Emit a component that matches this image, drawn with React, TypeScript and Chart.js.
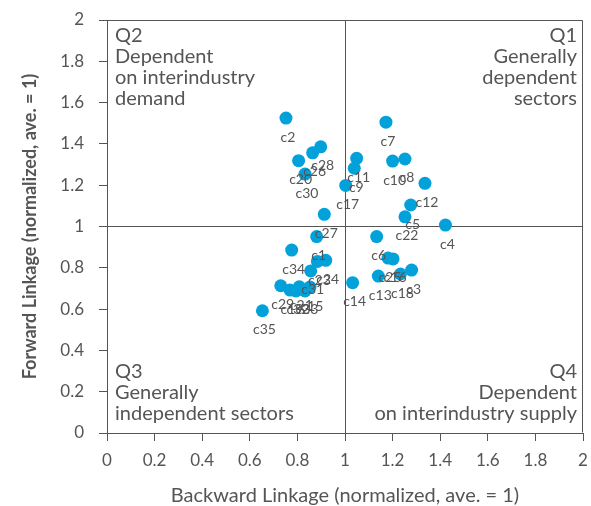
import React, { useEffect, useRef } from "react";
import { Chart, registerables } from "chart.js";

Chart.register(...registerables);

const sectorLabels = [
  "c1", "c2", "c3", "c4", "c5", "c6", "c7", "c8", "c9", "c10",
  "c11", "c12", "c13", "c14", "c15", "c16", "c17", "c18", "c19", "c20",
  "c21", "c22", "c23", "c24", "c25", "c26", "c27", "c28", "c29", "c30",
  "c31", "c32", "c33", "c34", "c35",
];
const backwardLinkage = [
  0.881, 0.752, 1.28, 1.422, 1.276, 1.133, 1.172, 1.252, 1.039, 1.2,
  1.049, 1.336, 1.14, 1.032, 0.853, 1.202, 1.003, 1.233, 0.769, 0.805,
  0.808, 1.252, 0.884, 0.919, 1.181, 0.864, 0.913, 0.898, 0.73, 0.832,
  0.856, 0.794, 0.832, 0.776, 0.653,
];
const forwardLinkage = [
  0.951, 1.525, 0.789, 1.007, 1.104, 0.951, 1.505, 1.327, 1.282, 1.317,
  1.33, 1.209, 0.76, 0.728, 0.707, 0.843, 1.199, 0.77, 0.692, 1.319,
  0.708, 1.047, 0.831, 0.836, 0.847, 1.357, 1.059, 1.386, 0.713, 1.254,
  0.785, 0.688, 0.688, 0.886, 0.592,
];
const axisMin = 0;
const axisMax = 2;
const tickStep = 0.2;
const quadrantQ2 = ["Q2", "Dependent", "on interindustry", "demand"];
const quadrantQ1 = ["Q1", "Generally", "dependent", "sectors"];
const quadrantQ3 = ["Q3", "Generally", "independent sectors"];
const quadrantQ4 = ["Q4", "Dependent", "on interindustry supply"];
const xTitle = "Backward Linkage (normalized, ave. = 1)";
const yTitle = "Forward Linkage (normalized, ave. = 1)";

const FONT = "Lato";
const TEXT = "#555555";
const LINE = "#555555";
const DOT = "#03a1da";

const isOne = (v: number) => Math.abs(v - 1) < 1e-9;
const fmt = (v: number) => String(Number(Number(v).toFixed(1)));

export default function App() {
  const ref = useRef<HTMLCanvasElement | null>(null);

  useEffect(() => {
    if (!ref.current) return;

    const framePlugin = {
      id: "frame",
      beforeDatasetsDraw(chart: any) {
        const { ctx, chartArea } = chart;
        const l = Math.round(chartArea.left) + 0.5;
        const r = Math.round(chartArea.right) - 0.5;
        const t = Math.round(chartArea.top) + 0.5;
        const b = Math.round(chartArea.bottom) - 0.5;
        ctx.save();
        ctx.strokeStyle = LINE;
        ctx.lineWidth = 1;
        ctx.beginPath();
        ctx.moveTo(l, t);
        ctx.lineTo(r, t);
        ctx.lineTo(r, b);
        ctx.stroke();
        ctx.restore();
      },
    };

    const textPlugin = {
      id: "texts",
      afterDatasetsDraw(chart: any) {
        const { ctx, chartArea } = chart;
        const meta = chart.getDatasetMeta(0);
        ctx.save();
        ctx.fillStyle = TEXT;
        ctx.font = `14px ${FONT}`;
        ctx.textAlign = "center";
        ctx.textBaseline = "middle";
        meta.data.forEach((el: any, i: number) => {
          ctx.fillText(sectorLabels[i], el.x + 2, el.y + 19);
        });

        ctx.font = `20px ${FONT}`;
        ctx.textBaseline = "alphabetic";
        const lh = 21;
        const leftX = chartArea.left + 8;
        const rightX = chartArea.right - 6;
        const topBase = chartArea.top + 22;
        const botBase = chartArea.bottom - 55;
        ctx.textAlign = "left";
        quadrantQ2.forEach((s, i) => ctx.fillText(s, leftX, topBase + i * lh));
        quadrantQ3.forEach((s, i) => ctx.fillText(s, leftX, botBase + i * lh));
        ctx.textAlign = "right";
        quadrantQ1.forEach((s, i) => ctx.fillText(s, rightX, topBase + i * lh));
        quadrantQ4.forEach((s, i) => ctx.fillText(s, rightX, botBase + i * lh));
        ctx.restore();
      },
    };

    const chart = new Chart(ref.current, {
      type: "scatter",
      data: {
        datasets: [
          {
            data: backwardLinkage.map((x, i) => ({ x, y: forwardLinkage[i] })),
            backgroundColor: DOT,
            borderWidth: 0,
            pointRadius: 6.5,
            pointHoverRadius: 6.5,
          },
        ],
      },
      options: {
        animation: false,
        responsive: false,
        devicePixelRatio: 1,
        layout: { padding: { left: 0, right: 8, top: 20, bottom: 0 } },
        plugins: { legend: { display: false }, tooltip: { enabled: false } },
        scales: {
          x: {
            type: "linear",
            min: axisMin,
            max: axisMax,
            afterFit: (s: any) => {
              s.height = 73;
              s.paddingLeft = 0;
              s.paddingRight = 0;
            },
            ticks: {
              stepSize: tickStep,
              padding: 9,
              color: TEXT,
              font: { family: FONT, size: 17 },
              callback: (v: any) => fmt(v),
            },
            grid: {
              color: (c: any) => (c.tick && isOne(c.tick.value) ? LINE : "rgba(0,0,0,0)"),
              tickColor: LINE,
              tickLength: 8,
              lineWidth: 1,
            },
            border: { display: true, color: LINE, width: 1 },
            title: {
              display: true,
              text: xTitle,
              color: TEXT,
              font: { family: FONT, size: 20, lineHeight: 1 },
              padding: { top: 0, bottom: 0 },
            },
          },
          y: {
            type: "linear",
            min: axisMin,
            max: axisMax,
            afterFit: (s: any) => {
              s.width = 107;
              s.paddingTop = 0;
              s.paddingBottom = 0;
            },
            ticks: {
              stepSize: tickStep,
              padding: 15,
              color: TEXT,
              font: { family: FONT, size: 17 },
              callback: (v: any) => fmt(v),
            },
            grid: {
              color: (c: any) => (c.tick && isOne(c.tick.value) ? LINE : "rgba(0,0,0,0)"),
              tickColor: LINE,
              tickLength: 8,
              lineWidth: 1,
            },
            border: { display: true, color: LINE, width: 1 },
            title: {
              display: true,
              text: yTitle,
              color: TEXT,
              font: { family: FONT, size: 18, weight: "bold", lineHeight: 1 },
              padding: { top: 21, bottom: 0 },
            },
          },
        },
      },
      plugins: [framePlugin, textPlugin],
    } as any);

    return () => chart.destroy();
  }, []);

  return (
    <div style={{ position: "absolute", left: 0, top: 0, width: 591, height: 506, background: "#fff" }}>
      <canvas ref={ref} width={591} height={506} style={{ display: "block" }} />
    </div>
  );
}
